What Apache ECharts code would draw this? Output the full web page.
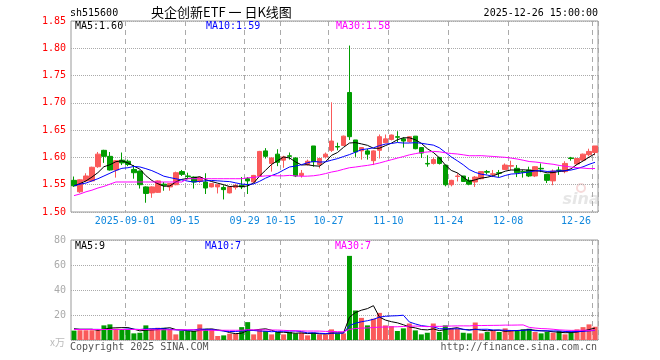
<!DOCTYPE html>
<html><head><meta charset="utf-8">
<script src="https://cdn.jsdelivr.net/npm/echarts@6/dist/echarts.min.js"></script>
<style>html,body{margin:0;padding:0;background:#fff}#c{width:660px;height:360px}</style>
</head><body><div id="c"></div>
<script>
// ---- data ----
const dates = ['2025-08-19','2025-08-20','2025-08-21','2025-08-22','2025-08-25','2025-08-26','2025-08-27','2025-08-28','2025-08-29',
'2025-09-01','2025-09-02','2025-09-03','2025-09-04','2025-09-05','2025-09-08','2025-09-09','2025-09-10','2025-09-11','2025-09-12',
'2025-09-15','2025-09-16','2025-09-17','2025-09-18','2025-09-19','2025-09-22','2025-09-23','2025-09-24','2025-09-25','2025-09-26',
'2025-09-29','2025-09-30','2025-10-09','2025-10-10','2025-10-13','2025-10-14','2025-10-15','2025-10-16','2025-10-17',
'2025-10-20','2025-10-21','2025-10-22','2025-10-23','2025-10-24','2025-10-27','2025-10-28','2025-10-29','2025-10-30','2025-10-31',
'2025-11-03','2025-11-04','2025-11-05','2025-11-06','2025-11-07','2025-11-10','2025-11-11','2025-11-12','2025-11-13','2025-11-14',
'2025-11-17','2025-11-18','2025-11-19','2025-11-20','2025-11-21','2025-11-24','2025-11-25','2025-11-26','2025-11-27','2025-11-28',
'2025-12-01','2025-12-02','2025-12-03','2025-12-04','2025-12-05','2025-12-08','2025-12-09','2025-12-10','2025-12-11','2025-12-12',
'2025-12-15','2025-12-16','2025-12-17','2025-12-18','2025-12-19','2025-12-22','2025-12-23','2025-12-24','2025-12-25','2025-12-26'];

// open, close, low, high
const ohlc = [
[1.558,1.548,1.546,1.565],[1.537,1.559,1.535,1.560],[1.557,1.566,1.555,1.571],[1.557,1.582,1.556,1.583],[1.583,1.606,1.581,1.610],
[1.613,1.602,1.590,1.614],[1.602,1.577,1.576,1.610],[1.577,1.594,1.563,1.595],[1.595,1.590,1.586,1.609],[1.593,1.587,1.584,1.596],
[1.578,1.572,1.561,1.586],[1.575,1.550,1.543,1.576],[1.546,1.534,1.517,1.547],[1.535,1.546,1.526,1.547],[1.536,1.557,1.535,1.558],
[1.551,1.549,1.539,1.555],[1.546,1.552,1.539,1.553],[1.550,1.572,1.549,1.574],[1.574,1.569,1.566,1.577],[1.566,1.565,1.560,1.572],
[1.564,1.555,1.543,1.565],[1.556,1.563,1.553,1.564],[1.555,1.544,1.533,1.571],[1.546,1.552,1.545,1.553],[1.546,1.550,1.534,1.551],
[1.545,1.541,1.523,1.549],[1.535,1.546,1.534,1.547],[1.545,1.549,1.541,1.552],[1.549,1.546,1.542,1.564],[1.561,1.557,1.533,1.564],
[1.555,1.567,1.554,1.568],[1.566,1.611,1.565,1.612],[1.612,1.602,1.598,1.617],[1.589,1.599,1.574,1.600],[1.606,1.591,1.584,1.615],
[1.595,1.601,1.581,1.603],[1.603,1.602,1.596,1.609],[1.599,1.566,1.564,1.600],[1.567,1.571,1.563,1.577],[1.587,1.593,1.585,1.596],
[1.621,1.592,1.583,1.621],[1.587,1.598,1.580,1.599],[1.601,1.606,1.598,1.609],[1.613,1.630,1.610,1.701],[1.620,1.619,1.613,1.627],
[1.622,1.639,1.621,1.640],[1.719,1.638,1.632,1.805],[1.632,1.610,1.601,1.632],[1.612,1.618,1.596,1.619],[1.612,1.606,1.596,1.616],
[1.594,1.612,1.586,1.613],[1.613,1.638,1.598,1.642],[1.627,1.634,1.626,1.642],[1.633,1.641,1.631,1.642],[1.638,1.637,1.628,1.648],
[1.634,1.630,1.618,1.637],[1.629,1.638,1.627,1.639],[1.639,1.616,1.615,1.639],[1.618,1.608,1.599,1.619],[1.589,1.588,1.583,1.604],
[1.589,1.596,1.587,1.600],[1.600,1.589,1.587,1.601],[1.586,1.550,1.547,1.586],[1.550,1.558,1.547,1.559],[1.565,1.566,1.556,1.571],
[1.566,1.556,1.555,1.566],[1.558,1.551,1.549,1.564],[1.555,1.564,1.546,1.566],[1.561,1.574,1.560,1.575],[1.574,1.573,1.569,1.577],
[1.569,1.570,1.564,1.577],[1.572,1.571,1.564,1.577],[1.578,1.586,1.577,1.589],[1.584,1.585,1.577,1.594],[1.580,1.572,1.564,1.586],
[1.574,1.573,1.563,1.577],[1.577,1.566,1.564,1.583],[1.566,1.583,1.564,1.584],[1.580,1.579,1.573,1.589],[1.569,1.558,1.553,1.569],
[1.557,1.575,1.549,1.578],[1.577,1.576,1.568,1.583],[1.574,1.589,1.571,1.593],[1.599,1.598,1.594,1.601],[1.588,1.598,1.587,1.599],
[1.595,1.606,1.594,1.607],[1.605,1.611,1.602,1.616],[1.609,1.621,1.604,1.621]];

// volume (x万)
const volumes = [7.5,7.8,7.8,7.8,7.8,11.7,12.5,9.0,8.5,8.0,5.3,5.8,11.7,9.3,9.8,9.8,8.5,4.5,7.2,7.2,
7.2,12.5,9.0,8.5,3.2,3.7,5.0,5.0,10.3,14.3,4.5,8.5,7.2,4.5,6.4,4.5,6.4,5.3,5.8,3.7,
5.8,4.5,4.5,8.5,5.3,5.3,67.3,23.6,17.7,11.7,17.0,21.7,11.7,11.1,7.2,9.3,13.2,7.7,4.5,5.8,
13.2,6.4,11.7,9.0,9.0,5.8,5.3,14.0,5.3,6.4,7.2,6.4,9.3,7.2,7.9,8.5,9.0,6.4,5.3,6.4,
5.8,7.2,4.5,5.8,8.5,10.3,12.5,10.6];

// moving-average values for days whose window starts before the visible range
const ma5Head  = [1.548,1.552,1.557,1.564];
const ma10Head = [1.548,1.551,1.553,1.557,1.561,1.566,1.571,1.576,1.580];
const ma30Head = [1.530,1.533,1.537,1.540,1.544,1.547,1.551,1.555,
  1.555,1.555,1.555,1.555,1.555,1.555,1.555,1.555,1.555,1.555,1.555,
  1.561,1.561,1.561,1.561,1.561,1.561,1.561,1.561,1.561,1.561];
const vma5Head  = [9.0,8.6,8.6,8.6];
const vma10Head = [8.5,8.5,8.5,8.5,8.5,8.4,8.4,8.4,8.4];
const vma30Head = [8.4,8.4,8.4,8.4,8.4,8.4,8.4,8.4,8.4,8.4,8.4,8.4,8.4,
  8.2,8.2,8.2,8.2,8.2,8.2,8.2,8.2, 7.8,7.8,7.8,7.8,7.8,7.8,7.8,7.8];

const priceTicks = {min:1.50, max:1.85, step:0.05};
const volTicks = {min:0, max:80, step:20};
const labelDays = ['2025-09-01','2025-09-15','2025-09-29','2025-10-15','2025-10-27','2025-11-10','2025-11-24','2025-12-08','2025-12-26'];
const headerCode = 'sh515600';
const headerTitle = '央企创新ETF 一 日K线图';
const headerTime = '2025-12-26 15:00:00';
const priceMaLabels = ['MA5:1.60','MA10:1.59','MA30:1.58'];
const volMaLabels = ['MA5:9','MA10:7','MA30:7'];

// ---- derived ----
const closes = ohlc.map(d => d[1]);
function movingAvg(vals, n, head){
  return vals.map((v,i) => {
    if (i < n-1) return head[i];
    let s = 0; for (let k=i-n+1;k<=i;k++) s += vals[k];
    return +(s/n).toFixed(4);
  });
}
const ma5 = movingAvg(closes,5,ma5Head), ma10 = movingAvg(closes,10,ma10Head), ma30 = movingAvg(closes,30,ma30Head);
const vma5 = movingAvg(volumes,5,vma5Head), vma10 = movingAvg(volumes,10,vma10Head), vma30 = movingAvg(volumes,30,vma30Head);

const RED = '#fa5a5a', GREEN = '#009c00';
const MONO = '"DejaVu Sans Mono", monospace';
const labelIdx = labelDays.map(d => dates.indexOf(d));
const lastIdx = dates.length - 1;

const volData = volumes.map((v,i) => ({value:v, itemStyle:{color: ohlc[i][1] >= ohlc[i][0] ? RED : GREEN}}));

const vSplit = {show:true, interval:(i)=>labelIdx.indexOf(i) >= 0, lineStyle:{color:'#aaa', type:[5,4], width:1}};
const hSplit = {show:true, lineStyle:{color:'#aaa', type:[1,1], width:1}};

const chart = echarts.init(document.getElementById('c'), null, {renderer:'canvas'});
const lineS = (name, data, color, xi) => ({name, type:'line', data, xAxisIndex:xi, yAxisIndex:xi, symbol:'none', silent:true,
  lineStyle:{color, width:1}, z:5, animation:false});

chart.setOption({
  animation:false,
  backgroundColor:'#fff',
  grid:[
    {left:71, top:21, width:527, height:191, show:true, borderColor:'#999', borderWidth:1},
    {left:71, top:240, width:527, height:100, show:true, borderColor:'#999', borderWidth:1}
  ],
  xAxis:[
    {type:'category', gridIndex:0, data:dates, boundaryGap:true, axisLine:{show:false}, axisTick:{show:false},
     splitLine:vSplit,
     axisLabel:{interval:(i)=>labelIdx.indexOf(i) >= 0, margin:4, color:'#1188dd', fontFamily:MONO, fontSize:10,
       formatter:(v,i)=>{ const t = (v === labelDays[0]) ? v : v.slice(5); return (i === lastIdx || v === labelDays[labelDays.length-1]) ? '{e|'+t+'}' : '{a|'+t+'}'; },
       rich:{a:{padding:[0,6,0,0], color:'#1188dd', fontFamily:MONO, fontSize:10},
             e:{padding:[0,38,0,0], color:'#1188dd', fontFamily:MONO, fontSize:10}}}},
    {type:'category', gridIndex:1, data:dates, boundaryGap:true, axisLine:{show:false}, axisTick:{show:false},
     splitLine:vSplit, axisLabel:{show:false}}
  ],
  yAxis:[
    {type:'value', gridIndex:0, min:priceTicks.min, max:priceTicks.max, interval:priceTicks.step, scale:true,
     axisLine:{show:false}, axisTick:{show:false}, splitLine:hSplit,
     axisLabel:{color:'#ff0000', fontFamily:MONO, fontSize:10, margin:5, formatter:v=>v.toFixed(2)}},
    {type:'value', gridIndex:1, min:volTicks.min, max:volTicks.max, interval:volTicks.step,
     axisLine:{show:false}, axisTick:{show:false}, splitLine:hSplit,
     axisLabel:{color:'#aaa', fontFamily:MONO, fontSize:10, margin:5, formatter:v=> v===0 ? '' : String(v)}}
  ],
  series:[
    {name:'K', type:'candlestick', data:ohlc, xAxisIndex:0, yAxisIndex:0, barWidth:5, silent:true,
     itemStyle:{color:RED, color0:GREEN, borderColor:RED, borderColor0:GREEN, borderWidth:1}},
    lineS('MA5', ma5, '#000000', 0),
    lineS('MA10', ma10, '#0000ff', 0),
    lineS('MA30', ma30, '#ff00ff', 0),
    {name:'VOL', type:'bar', data:volData, xAxisIndex:1, yAxisIndex:1, barWidth:5, silent:true},
    lineS('VMA5', vma5, '#000000', 1),
    lineS('VMA10', vma10, '#0000ff', 1),
    lineS('VMA30', vma30, '#ff00ff', 1)
  ],
  graphic:[
    {type:'text', x:70, y:13, style:{text:headerCode, font:'10px '+MONO, fill:'#000', verticalAlign:'middle'}},
    {type:'text', x:151, y:12, style:{text:headerTitle, font:'13px "Noto Sans CJK SC"', fill:'#000', verticalAlign:'middle'}},
    {type:'text', x:598, y:13, style:{text:headerTime, font:'10px '+MONO, fill:'#000', align:'right', verticalAlign:'middle'}},
    {type:'text', x:75, y:26, z:10, style:{text:priceMaLabels[0], font:'10px '+MONO, fill:'#000', verticalAlign:'middle'}},
    {type:'text', x:206, y:26, z:10, style:{text:priceMaLabels[1], font:'10px '+MONO, fill:'#0000ff', verticalAlign:'middle'}},
    {type:'text', x:336, y:26, z:10, style:{text:priceMaLabels[2], font:'10px '+MONO, fill:'#ff00ff', verticalAlign:'middle'}},
    {type:'text', x:75, y:246, z:10, style:{text:volMaLabels[0], font:'10px '+MONO, fill:'#000', verticalAlign:'middle'}},
    {type:'text', x:205, y:246, z:10, style:{text:volMaLabels[1], font:'10px '+MONO, fill:'#0000ff', verticalAlign:'middle'}},
    {type:'text', x:335, y:246, z:10, style:{text:volMaLabels[2], font:'10px '+MONO, fill:'#ff00ff', verticalAlign:'middle'}},
    {type:'text', x:65, y:342, style:{text:'x万', font:'10px "Noto Sans CJK SC"', fill:'#bbb', align:'right', verticalAlign:'middle'}},
    {type:'text', x:70, y:347, style:{text:'Copyright 2025 SINA.COM', font:'10px '+MONO, fill:'#555', verticalAlign:'middle'}},
    {type:'text', x:597, y:347, style:{text:'http://finance.sina.com.cn', font:'10px '+MONO, fill:'#555', align:'right', verticalAlign:'middle'}},
    {type:'circle', shape:{cx:581, cy:188, r:4}, style:{fill:'none', stroke:'rgba(230,150,150,0.35)', lineWidth:2}, z:0},
    {type:'text', x:581, y:200, z:0, style:{text:'sina', font:'italic bold 16px "DejaVu Sans"', fill:'rgba(200,200,200,0.45)', align:'center', verticalAlign:'middle'}}
  ]
});
</script></body></html>
